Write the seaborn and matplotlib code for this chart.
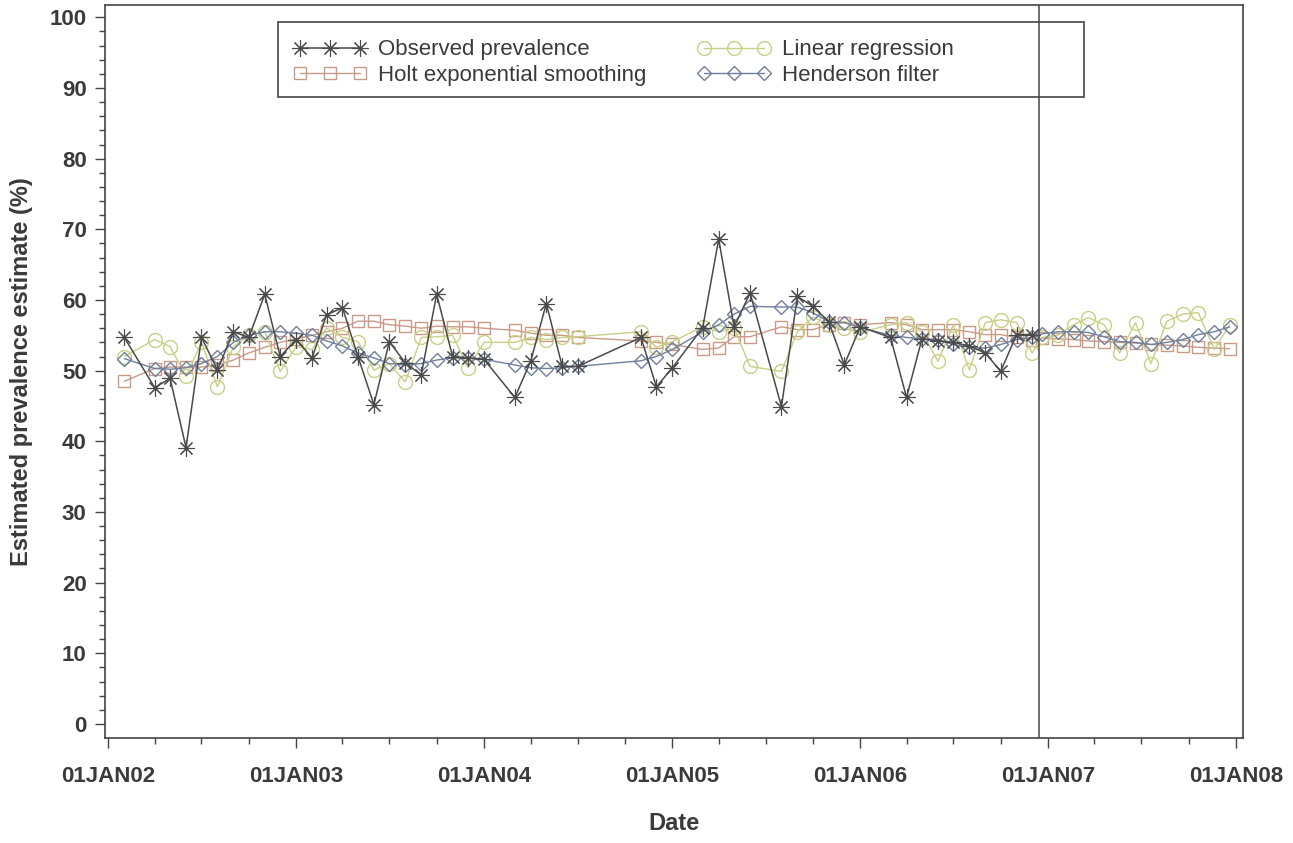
import numpy as np
import pandas as pd
import matplotlib
matplotlib.use("Agg")
import matplotlib.pyplot as plt
import matplotlib.dates as mdates
from matplotlib.patches import Rectangle
import seaborn as sns

# ---------------- data ----------------
# month index counted from Jan 2002 (0 = Jan 2002)
obs_month = [1, 3, 4, 5, 6, 7, 8, 9, 10, 11, 12, 13, 14, 15, 16, 17, 18, 19, 20, 21, 22, 23, 24,
             26, 27, 28, 29, 30, 34, 35, 36, 38, 39, 40, 41, 43, 44, 45, 46, 47, 48,
             50, 51, 52, 53, 54, 55, 56, 57, 58, 59]
observed = [54.7, 47.6, 48.9, 39.1, 54.7, 50.1, 55.5, 54.7, 60.8, 52.0, 54.4, 51.8, 57.9, 58.9, 52.0, 45.2,
            54.1, 51.1, 49.4, 60.8, 52.0, 51.8, 51.6,
            46.2, 51.4, 59.5, 50.6, 50.6, 54.7, 47.7, 50.4, 56.1, 68.6, 56.2, 61.0, 44.9, 60.5, 59.1, 56.9, 50.8, 56.2,
            54.7, 46.2, 54.5, 54.2, 54.0, 53.5, 52.5, 49.9, 55.1, 55.1]
holt_fit = [48.5, 50.3, 50.5, 50.5, 50.5, 50.8, 51.5, 52.5, 53.3, 54.0, 54.5, 55.0, 55.5, 56.0, 57.0, 57.0,
            56.5, 56.3, 56.0, 56.3, 56.2, 56.2, 56.0,
            55.7, 55.3, 55.0, 55.0, 54.7, 54.2, 54.0, 53.7, 53.0, 53.2, 54.8, 54.8, 56.2, 55.8, 55.8, 56.5, 56.8, 56.5,
            56.8, 56.5, 55.8, 55.8, 55.8, 55.5, 55.1, 55.1, 54.7, 54.4]
linreg_fit = [52.0, 54.4, 53.4, 49.2, 54.0, 47.7, 53.4, 55.0, 55.5, 49.9, 53.4, 53.0, 56.0, 54.7, 54.1, 50.1,
              51.0, 48.4, 54.7, 54.8, 55.0, 50.4, 54.0,
              54.0, 54.7, 54.4, 54.7, 54.8, 55.5, 53.3, 54.1, 56.2, 55.5, 56.0, 50.6, 49.9, 55.5, 57.6, 56.5, 56.0, 55.4,
              56.5, 56.8, 55.5, 51.3, 56.5, 50.1, 56.8, 57.2, 56.8, 52.5]
henderson_fit = [51.7, 50.3, 50.2, 50.4, 51.0, 52.0, 54.0, 55.0, 55.5, 55.5, 55.3, 55.0, 54.2, 53.5, 52.5, 51.8,
                 51.0, 50.8, 51.0, 51.5, 51.8, 51.8, 51.6,
                 50.8, 50.4, 50.3, 50.4, 50.6, 51.4, 52.0, 53.0, 55.5, 56.5, 58.0, 59.1, 59.0, 59.0, 58.2, 56.9, 56.8, 56.1,
                 55.0, 54.7, 54.5, 54.4, 53.7, 53.3, 53.2, 53.7, 54.4, 54.7]

# forecast period (2007)
fc_dates = ["2006-12-20", "2007-01-20", "2007-02-20", "2007-03-20", "2007-04-20", "2007-05-20", "2007-06-20",
            "2007-07-20", "2007-08-20", "2007-09-20", "2007-10-20", "2007-11-20", "2007-12-20"]
holt_fc = [54.6, 54.5, 54.4, 54.2, 54.1, 54.0, 53.9, 53.7, 53.6, 53.5, 53.3, 53.2, 53.1]
linreg_fc = [54.7, 55.0, 56.5, 57.5, 56.5, 52.5, 56.8, 51.0, 57.0, 58.0, 58.2, 53.0, 56.5]
henderson_fc = [55.2, 55.5, 55.5, 55.4, 54.8, 54.1, 54.0, 53.7, 54.0, 54.4, 55.1, 55.5, 56.2]

cutoff_date = "2006-12-15"
year_ticks = ["2002-01-01", "2003-01-01", "2004-01-01", "2005-01-01", "2006-01-01", "2007-01-01", "2008-01-01"]

legend_labels = ["Observed prevalence", "Holt exponential smoothing", "Linear regression", "Henderson filter"]

# ---------------- build frames ----------------
base = pd.Timestamp("2002-01-01")
obs_dates = [base + pd.DateOffset(months=m) for m in obs_month]
fc_ts = pd.to_datetime(fc_dates)
all_dates = list(obs_dates) + list(fc_ts)

df_obs = pd.DataFrame({"date": obs_dates, "value": observed})
df_holt = pd.DataFrame({"date": all_dates, "value": holt_fit + holt_fc})
df_lr = pd.DataFrame({"date": all_dates, "value": linreg_fit + linreg_fc})
df_hend = pd.DataFrame({"date": all_dates, "value": henderson_fit + henderson_fc})

# ---------------- plot ----------------
sns.set_style("ticks")
plt.rcParams["font.family"] = ["Liberation Sans", "DejaVu Sans"]

fig = plt.figure(figsize=(12.93, 8.43), dpi=100)
ax = fig.add_axes([0.081, 0.1245, 0.880, 0.870])

c_obs = "#4a4a4a"
c_holt = "#c99a88"
c_lr = "#c9cf85"
c_hend = "#6f7f9c"

sns.lineplot(data=df_holt, x="date", y="value", ax=ax, color=c_holt, lw=1.0,
             marker="s", ms=9, mfc="none", mec=c_holt, mew=1.0, label=legend_labels[1])
sns.lineplot(data=df_lr, x="date", y="value", ax=ax, color=c_lr, lw=1.0,
             marker="o", ms=10, mfc="none", mec=c_lr, mew=1.0, label=legend_labels[2])
sns.lineplot(data=df_hend, x="date", y="value", ax=ax, color=c_hend, lw=1.0,
             marker="D", ms=7.5, mfc="none", mec=c_hend, mew=1.0, label=legend_labels[3])
sns.lineplot(data=df_obs, x="date", y="value", ax=ax, color=c_obs, lw=1.1,
             marker=(8, 2, 0), ms=12, mec=c_obs, mew=0.8, label=legend_labels[0])

ax.axvline(pd.Timestamp(cutoff_date), color="#555555", lw=1.2)

ax.set_xlim(pd.Timestamp("2001-12-25"), pd.Timestamp("2008-01-14"))
ax.set_ylim(-2, 101.8)
ax.set_yticks(np.arange(0, 101, 10))
ax.set_yticks(np.arange(0, 101, 2), minor=True)
ax.set_xticks(pd.to_datetime(year_ticks))
ax.xaxis.set_minor_locator(mdates.MonthLocator(bymonth=[4, 7, 10]))
ax.xaxis.set_major_formatter(plt.FuncFormatter(
    lambda v, p: mdates.num2date(v).strftime("%d%b%y").upper()))

for lab in ax.get_xticklabels() + ax.get_yticklabels():
    lab.set_fontsize(16)
    lab.set_fontweight("bold")
    lab.set_color("#3a3a3a")
ax.tick_params(axis="both", which="major", direction="out", length=7, width=1, color="#444444", pad=6)
ax.tick_params(axis="both", which="minor", direction="out", length=4, width=1, color="#444444")
ax.tick_params(axis="x", which="major", pad=13)

ax.set_xlabel("Date", fontsize=17, fontweight="bold", color="#3a3a3a", labelpad=18)
ax.set_ylabel("Estimated prevalence estimate (%)", fontsize=17, fontweight="bold", color="#3a3a3a", labelpad=12)

for s in ax.spines.values():
    s.set_visible(True)
    s.set_color("#444444")
    s.set_linewidth(1.2)

# legend
handles, labels = ax.get_legend_handles_labels()
order = [labels.index(l) for l in legend_labels]
handles = [handles[i] for i in order]
labels = [labels[i] for i in order]
leg = ax.legend(handles, labels, ncol=2, loc="upper left", bbox_to_anchor=(0.148, 0.980),
                frameon=False, fontsize=16, numpoints=3, handlelength=3.3,
                columnspacing=2.3, labelspacing=0.2, handletextpad=0.5)
for t in leg.get_texts():
    t.set_color("#3a3a3a")
ax.add_patch(Rectangle((0.152, 0.8745), 0.709, 0.1025, transform=ax.transAxes,
                       fill=False, ec="#444444", lw=1.2, zorder=5))

fig.savefig("out.png", dpi=100)
